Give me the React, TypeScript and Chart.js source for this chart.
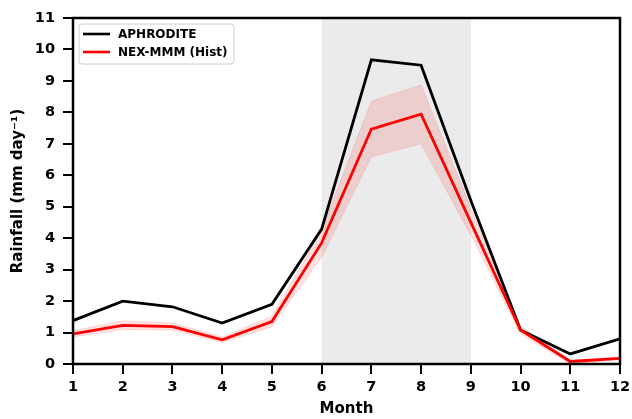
import React, { useEffect, useRef } from "react";
import { Chart, registerables } from "chart.js";

Chart.register(...registerables);

// Monthly climatology of rainfall (mm/day)
const months = [1, 2, 3, 4, 5, 6, 7, 8, 9, 10, 11, 12];
const aphrodite = [1.38, 2.0, 1.82, 1.3, 1.9, 4.29, 9.67, 9.5, 5.2, 1.08, 0.32, 0.8];
const nexMean = [0.96, 1.23, 1.19, 0.77, 1.35, 3.85, 7.47, 7.94, 4.5, 1.08, 0.08, 0.18];
const nexUpper = [1.06, 1.37, 1.3, 0.86, 1.52, 4.25, 8.36, 8.87, 4.95, 1.2, 0.12, 0.22];
const nexLower = [0.86, 1.1, 1.08, 0.68, 1.18, 3.4, 6.59, 7.0, 4.1, 0.95, 0.0, 0.14];
const monsoonSpan = [6, 9];
const seriesNames = ["APHRODITE", "NEX-MMM (Hist)"];

const FONT = "'DejaVu Sans', sans-serif";

const toPoints = (ys: number[]) => months.map((m, i) => ({ x: m, y: ys[i] }));

// Grey monsoon band behind the series, axes frame and legend box on top
const decorations = {
  id: "decorations",
  beforeDatasetsDraw(chart: any) {
    const { ctx, chartArea, scales } = chart;
    const x0 = scales.x.getPixelForValue(monsoonSpan[0]);
    const x1 = scales.x.getPixelForValue(monsoonSpan[1]);
    ctx.save();
    ctx.fillStyle = "#ebebeb";
    ctx.fillRect(x0, chartArea.top, x1 - x0, chartArea.bottom - chartArea.top);
    ctx.restore();
  },
  afterDraw(chart: any) {
    const { ctx, chartArea } = chart;
    const { left, top, right, bottom } = chartArea;
    ctx.save();
    ctx.strokeStyle = "#000";
    ctx.lineWidth = 2.5;
    ctx.strokeRect(left, top, right - left, bottom - top);

    // legend
    const bx = left + 6, by = top + 6, bw = 155, bh = 40;
    ctx.beginPath();
    const r = 3;
    ctx.moveTo(bx + r, by);
    ctx.arcTo(bx + bw, by, bx + bw, by + bh, r);
    ctx.arcTo(bx + bw, by + bh, bx, by + bh, r);
    ctx.arcTo(bx, by + bh, bx, by, r);
    ctx.arcTo(bx, by, bx + bw, by, r);
    ctx.closePath();
    ctx.fillStyle = "rgba(255,255,255,0.8)";
    ctx.fill();
    ctx.strokeStyle = "#cccccc";
    ctx.lineWidth = 1;
    ctx.stroke();

    const colors = ["#000000", "#ff0000"];
    const rows = [by + 10, by + 28];
    ctx.font = `bold 12px ${FONT}`;
    ctx.textBaseline = "middle";
    ctx.textAlign = "left";
    rows.forEach((y, i) => {
      ctx.strokeStyle = colors[i];
      ctx.lineWidth = 2.6;
      ctx.beginPath();
      ctx.moveTo(bx + 4, y);
      ctx.lineTo(bx + 31, y);
      ctx.stroke();
      ctx.fillStyle = "#000";
      ctx.fillText(seriesNames[i], bx + 39, y + 0.5);
    });
    ctx.restore();
  },
};

export default function App() {
  const ref = useRef<HTMLCanvasElement | null>(null);

  useEffect(() => {
    if (!ref.current) return;
    const chart = new Chart(ref.current, {
      type: "line",
      data: {
        datasets: [
          {
            label: "lower",
            data: toPoints(nexLower),
            borderColor: "rgba(255,0,0,0.12)",
            borderWidth: 1,
            pointRadius: 0,
            fill: false,
            order: 3,
          },
          {
            label: "upper",
            data: toPoints(nexUpper),
            borderColor: "rgba(255,0,0,0.12)",
            borderWidth: 1,
            backgroundColor: "rgba(255,0,0,0.12)",
            pointRadius: 0,
            fill: "-1",
            order: 2,
          },
          {
            label: seriesNames[1],
            data: toPoints(nexMean),
            borderColor: "#ff0000",
            borderWidth: 2.8,
            pointRadius: 0,
            fill: false,
            order: 0,
          },
          {
            label: seriesNames[0],
            data: toPoints(aphrodite),
            borderColor: "#000000",
            borderWidth: 2.8,
            pointRadius: 0,
            fill: false,
            order: 1,
          },
        ],
      },
      options: {
        responsive: false,
        animation: false,
        layout: { padding: { top: 18, right: 12, left: 0, bottom: 0 } },
        plugins: { legend: { display: false }, tooltip: { enabled: false } },
        elements: { line: { tension: 0 } },
        scales: {
          x: {
            type: "linear",
            min: 1,
            max: 12,
            afterFit: (s: any) => {
              s.height = 55;
              s.paddingLeft = 0;
              s.paddingRight = 0;
            },
            border: { display: false },
            grid: { display: true, drawOnChartArea: false, drawTicks: true, tickLength: 10, color: "#000", lineWidth: 2 },
            ticks: { stepSize: 1, padding: 5, color: "#000", font: { family: FONT, weight: "bold", size: 14.5 } },
            title: { display: true, text: "Month", color: "#000", padding: { top: 0, bottom: 1 }, font: { family: FONT, weight: "bold", size: 15 } },
          },
          y: {
            min: 0,
            max: 11,
            afterFit: (s: any) => {
              s.width = 73;
              s.paddingTop = 0;
              s.paddingBottom = 0;
            },
            border: { display: false },
            grid: { display: true, drawOnChartArea: false, drawTicks: true, tickLength: 10, color: "#000", lineWidth: 2 },
            ticks: { stepSize: 1, padding: 8, color: "#000", font: { family: FONT, weight: "bold", size: 14.5 } },
            title: { display: true, text: "Rainfall (mm day⁻¹)", color: "#000", padding: { top: 9, bottom: 0 }, font: { family: FONT, weight: "bold", size: 15 } },
          },
        },
      },
      plugins: [decorations],
    });
    return () => chart.destroy();
  }, []);

  return (
    <div style={{ position: "absolute", left: 0, top: 0, width: 632, height: 419, background: "#fff" }}>
      <canvas ref={ref} width={632} height={419} />
    </div>
  );
}
